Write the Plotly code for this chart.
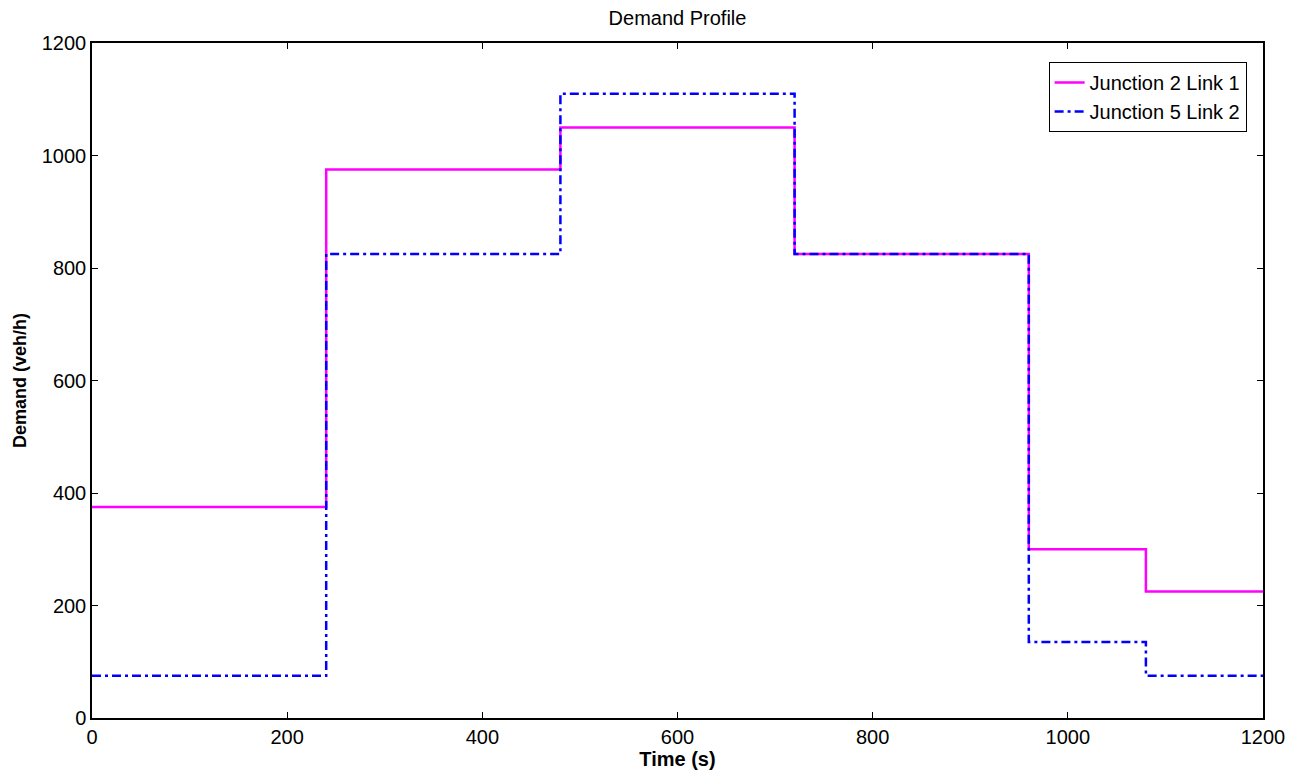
import plotly.graph_objects as go

time_s = [0, 240, 480, 720, 960, 1080, 1200]
j2_link1 = [375, 975, 1050, 825, 300, 225, 225]
j5_link2 = [75, 825, 1110, 825, 135, 75, 75]
x_ticks = [0, 200, 400, 600, 800, 1000, 1200]
y_ticks = [0, 200, 400, 600, 800, 1000, 1200]

fig = go.Figure()
fig.add_trace(go.Scatter(x=time_s, y=j2_link1, mode="lines", line_shape="hv",
                         name="Junction 2 Link 1",
                         line=dict(color="#FF00FF", width=2.5)))
fig.add_trace(go.Scatter(x=time_s, y=j5_link2, mode="lines", line_shape="hv",
                         name="Junction 5 Link 2",
                         line=dict(color="#0000FF", width=2.5, dash="9px,4px,3px,4px")))

font = "Liberation Sans, Arial, sans-serif"
W, H = 1286, 765
fig.update_layout(
    width=W, height=H,
    margin=dict(l=84, r=31, t=35, b=55, autoexpand=False),
    paper_bgcolor="white", plot_bgcolor="white",
    font=dict(family=font, size=20, color="black"),
    title=dict(text="Demand Profile", x=(84 + 1255) / 2 / W, xanchor="center",
               y=1 - 10 / H, yanchor="middle", font=dict(size=20)),
    legend=dict(x=0.986, y=0.972, xanchor="right", yanchor="top",
                bgcolor="white", bordercolor="black", borderwidth=1,
                font=dict(size=20), tracegroupgap=0),
    showlegend=True,
)
fig.update_xaxes(range=[0, 1200], tickvals=x_ticks, ticks="inside", ticklen=6,
                 tickcolor="black", showline=True, linecolor="black", linewidth=1.5,
                 mirror="ticks", showgrid=False, zeroline=False, automargin=False,
                 title=dict(text="<b>Time (s)</b>", standoff=5, font=dict(size=20)))
fig.update_yaxes(range=[0, 1200], tickvals=y_ticks, ticks="inside", ticklen=6,
                 tickcolor="black", showline=True, linecolor="black", linewidth=1.5,
                 mirror="ticks", showgrid=False, zeroline=False, automargin=False,
                 title=dict(text="<b>Demand (veh/h)</b>", standoff=10, font=dict(size=18)))

fig.write_html("out.html")
